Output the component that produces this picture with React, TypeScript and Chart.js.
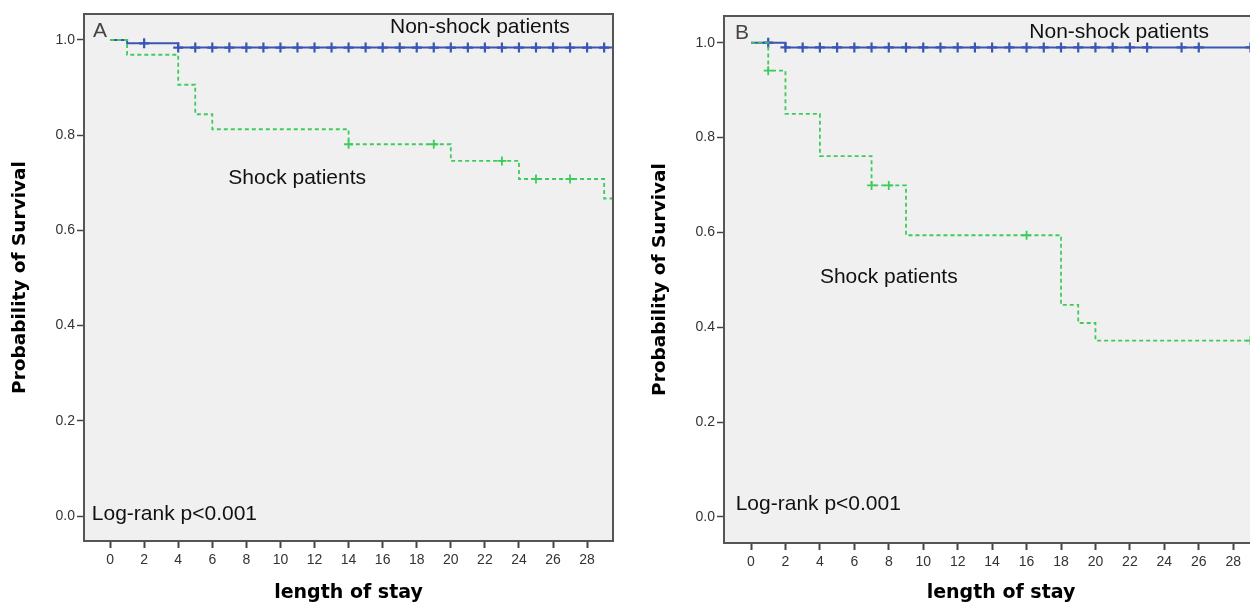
import React, { useEffect, useRef } from "react";
import { Chart, registerables } from "chart.js";

Chart.register(...registerables);

// ---------- shared axis ticks ----------
const xTickValues = [0, 2, 4, 6, 8, 10, 12, 14, 16, 18, 20, 22, 24, 26, 28];
const yTickValues = [0, 0.2, 0.4, 0.6, 0.8, 1.0];

// ---------- Panel A ----------
const aNonShockTimes = [0, 1, 4];
const aNonShockSurv = [1.0, 0.993, 0.984];
const aNonShockCensored = [2, 4, 5, 6, 7, 8, 9, 10, 11, 12, 13, 14, 15, 16, 17, 18, 19, 20, 21, 22, 23, 24, 25, 26, 27, 28, 29];
const aShockTimes = [0, 1, 4, 5, 6, 14, 20, 24, 29];
const aShockSurv = [1.0, 0.969, 0.906, 0.844, 0.8125, 0.781, 0.746, 0.708, 0.667];
const aShockCensored = [14, 19, 23, 25, 27];
const aXRange = [-1.53, 29.52];
const aYRange = [-0.0525, 1.0546];
const aLabelTexts = ["A", "Non-shock patients", "Shock patients", "Log-rank p<0.001"];
const aLabelX = [-1.0, 16.43, 6.94, -1.07];
const aLabelY = [1.018, 1.026, 0.709, 0.004];

// ---------- Panel B ----------
const bNonShockTimes = [0, 2];
const bNonShockSurv = [1.0, 0.99];
const bNonShockCensored = [1, 2, 3, 4, 5, 6, 7, 8, 9, 10, 11, 12, 13, 14, 15, 16, 17, 18, 19, 20, 21, 22, 23, 25, 26, 29];
const bShockTimes = [0, 1, 2, 4, 7, 9, 18, 19, 20];
const bShockSurv = [1.0, 0.941, 0.85, 0.761, 0.699, 0.594, 0.447, 0.409, 0.372];
const bShockCensored = [1, 7, 8, 16, 29];
const bXRange = [-1.568, 30.6];
const bYRange = [-0.0549, 1.0563];
const bLabelTexts = ["B", "Non-shock patients", "Shock patients", "Log-rank p<0.001"];
const bLabelX = [-0.93, 16.16, 4.0, -0.89];
const bLabelY = [1.02, 1.0215, 0.505, 0.026];

const labelColors = ["#444444", "#111111", "#111111", "#111111"];

const BLUE = "#3a55b4";
const GREEN = "#3fcb5c";

function stepData(times: number[], surv: number[], end: number) {
  const pts = times.map((t, i) => ({ x: t, y: surv[i] }));
  pts.push({ x: end, y: surv[surv.length - 1] });
  return pts;
}

function survAt(times: number[], surv: number[], t: number) {
  let s = surv[0];
  for (let i = 0; i < times.length; i++) if (times[i] <= t) s = surv[i];
  return s;
}

function censorData(times: number[], surv: number[], cens: number[]) {
  return cens.map((t) => ({ x: t, y: survAt(times, surv, t) }));
}

const framePlugin = {
  id: "kmFrame",
  beforeDatasetsDraw(chart: any) {
    const { ctx, chartArea } = chart;
    ctx.save();
    ctx.fillStyle = "#f0f0f0";
    ctx.fillRect(chartArea.left, chartArea.top, chartArea.right - chartArea.left, chartArea.bottom - chartArea.top);
    ctx.restore();
  },
  afterDraw(chart: any) {
    const { ctx, chartArea } = chart;
    ctx.save();
    ctx.strokeStyle = "#555555";
    ctx.lineWidth = 2;
    ctx.strokeRect(chartArea.left, chartArea.top, chartArea.right - chartArea.left, chartArea.bottom - chartArea.top);
    ctx.restore();
  },
};

function makeLabelPlugin(texts: string[], xs: number[], ys: number[]) {
  return {
    id: "kmLabels",
    afterDatasetsDraw(chart: any) {
      const { ctx } = chart;
      const sx = chart.scales.x;
      const sy = chart.scales.y;
      ctx.save();
      ctx.font = '21px "Liberation Sans", Arial, sans-serif';
      ctx.textAlign = "left";
      ctx.textBaseline = "middle";
      texts.forEach((t, i) => {
        ctx.fillStyle = labelColors[i];
        ctx.fillText(t, sx.getPixelForValue(xs[i]), sy.getPixelForValue(ys[i]));
      });
      ctx.restore();
    },
  };
}

type PanelProps = {
  left: number;
  width: number;
  padTop: number;
  xAxisHeight: number;
  nsTimes: number[];
  nsSurv: number[];
  nsCens: number[];
  sTimes: number[];
  sSurv: number[];
  sCens: number[];
  xRange: number[];
  yRange: number[];
  labelTexts: string[];
  labelX: number[];
  labelY: number[];
};

function KMPanel(p: PanelProps) {
  const ref = useRef<HTMLCanvasElement>(null);
  useEffect(() => {
    const tickFont = { family: '"Liberation Sans", Arial, sans-serif', size: 14 };
    const chart = new Chart(ref.current as HTMLCanvasElement, {
      type: "line",
      data: {
        datasets: [
          {
            data: stepData(p.sTimes, p.sSurv, p.xRange[1]),
            borderColor: GREEN,
            borderWidth: 1.8,
            borderDash: [4, 3],
            stepped: true,
            pointRadius: 0,
            fill: false,
            order: 0,
          } as any,
          {
            data: censorData(p.sTimes, p.sSurv, p.sCens),
            showLine: false,
            pointStyle: "cross",
            pointRadius: 4.5,
            pointBorderWidth: 1.8,
            pointBorderColor: GREEN,
            borderColor: GREEN,
            order: 0,
          } as any,
          {
            data: stepData(p.nsTimes, p.nsSurv, p.xRange[1]),
            borderColor: BLUE,
            borderWidth: 2,
            stepped: true,
            pointRadius: 0,
            fill: false,
            order: 1,
          } as any,
          {
            data: censorData(p.nsTimes, p.nsSurv, p.nsCens),
            showLine: false,
            pointStyle: "cross",
            pointRadius: 5,
            pointBorderWidth: 2.2,
            pointBorderColor: BLUE,
            borderColor: BLUE,
            order: 1,
          } as any,
        ],
      },
      options: {
        responsive: false,
        animation: false,
        events: [],
        layout: { padding: { left: 0, top: p.padTop, right: 12, bottom: 0 } },
        plugins: { legend: { display: false }, tooltip: { enabled: false } },
        scales: {
          x: {
            type: "linear",
            min: p.xRange[0],
            max: p.xRange[1],
            afterBuildTicks: (s: any) => {
              s.ticks = xTickValues.map((v) => ({ value: v }));
            },
            afterFit: (s: any) => {
              s.height = p.xAxisHeight;
            },
            ticks: { font: tickFont, color: "#333333", padding: 4, autoSkip: false, maxRotation: 0 },
            grid: { drawOnChartArea: false, drawTicks: true, tickLength: 7, tickColor: "#444444", tickWidth: 2 },
            border: { display: false },
            title: {
              display: true,
              text: "length of stay",
              color: "#000000",
              font: { family: '"DejaVu Sans", Verdana, sans-serif', size: 19, weight: "bold", lineHeight: 1.2 },
              padding: { top: 0, bottom: 1 },
            },
          },
          y: {
            type: "linear",
            min: p.yRange[0],
            max: p.yRange[1],
            afterBuildTicks: (s: any) => {
              s.ticks = yTickValues.map((v) => ({ value: v }));
            },
            afterFit: (s: any) => {
              s.width = 84;
            },
            ticks: {
              font: tickFont,
              color: "#333333",
              padding: 2,
              autoSkip: false,
              callback: (v: any) => Number(v).toFixed(1),
            },
            grid: { drawOnChartArea: false, drawTicks: true, tickLength: 7, tickColor: "#444444", tickWidth: 1.5 },
            border: { display: false },
            title: {
              display: true,
              text: "Probability of Survival",
              color: "#000000",
              font: { family: '"DejaVu Sans", Verdana, sans-serif', size: 18.5, weight: "bold", lineHeight: 1.2 },
              padding: { top: 9.5, bottom: 0 },
            },
          },
        },
      } as any,
      plugins: [framePlugin, makeLabelPlugin(p.labelTexts, p.labelX, p.labelY)],
    });
    return () => chart.destroy();
  }, []);
  return (
    <canvas
      ref={ref}
      width={p.width}
      height={605}
      style={{ position: "absolute", left: p.left, top: 0, width: p.width, height: 605 }}
    />
  );
}

export default function App() {
  return (
    <div
      style={{
        position: "fixed",
        left: 0,
        top: 0,
        width: 1250,
        height: 605,
        overflow: "hidden",
        background: "#ffffff",
      }}
    >
      <KMPanel
        left={0}
        width={625}
        padTop={14}
        xAxisHeight={64}
        nsTimes={aNonShockTimes}
        nsSurv={aNonShockSurv}
        nsCens={aNonShockCensored}
        sTimes={aShockTimes}
        sSurv={aShockSurv}
        sCens={aShockCensored}
        xRange={aXRange}
        yRange={aYRange}
        labelTexts={aLabelTexts}
        labelX={aLabelX}
        labelY={aLabelY}
      />
      <KMPanel
        left={640}
        width={650}
        padTop={16}
        xAxisHeight={62}
        nsTimes={bNonShockTimes}
        nsSurv={bNonShockSurv}
        nsCens={bNonShockCensored}
        sTimes={bShockTimes}
        sSurv={bShockSurv}
        sCens={bShockCensored}
        xRange={bXRange}
        yRange={bYRange}
        labelTexts={bLabelTexts}
        labelX={bLabelX}
        labelY={bLabelY}
      />
    </div>
  );
}
